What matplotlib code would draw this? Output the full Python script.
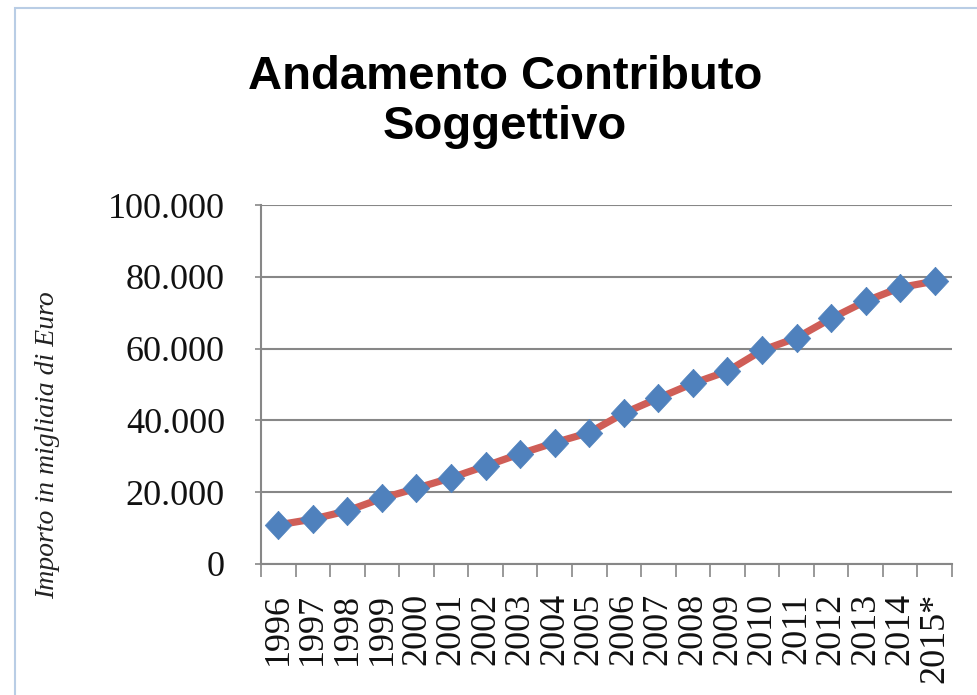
import matplotlib
matplotlib.use("Agg")
import matplotlib.pyplot as plt
from matplotlib.patches import Rectangle
from matplotlib.ticker import FuncFormatter, FixedLocator

# ── Data (migliaia di Euro) ──────────────────────────────────────────────────
YEARS = ["1996", "1997", "1998", "1999", "2000", "2001", "2002", "2003",
         "2004", "2005", "2006", "2007", "2008", "2009", "2010", "2011",
         "2012", "2013", "2014", "2015*"]
CONTRIBUTO = [10900, 12500, 14800, 18300, 21100, 24000, 27300, 30700,
              33800, 36600, 42000, 46200, 50300, 53700, 59500, 63000,
              68400, 73200, 77000, 78800]
Y_TICKS = [0, 20000, 40000, 60000, 80000, 100000]

LINE_COLOUR = "#CF5E57"
MARKER_COLOUR = "#4F81BD"
GRID_COLOUR = "#878787"

fig = plt.figure(figsize=(9.78, 6.95), dpi=100)

# light blue frame of the chart object (only top/left visible in the crop)
fig.patches.append(Rectangle((15 / 978, -0.1), 1.2, 0.1 + (1 - 8 / 695),
                             transform=fig.transFigure, fill=False,
                             edgecolor="#B9CDE5", linewidth=1.5))

ax = fig.add_axes([261 / 978, 1 - 564 / 695, 691 / 978, 359 / 695])

x = list(range(len(YEARS)))
diamond = [(0, 1), (0.93, 0), (0, -1), (-0.93, 0), (0, 1)]
ax.plot(x, CONTRIBUTO, color=LINE_COLOUR, linewidth=5.2, zorder=3,
        solid_capstyle="round")
ax.plot(x, CONTRIBUTO, linestyle="none", marker=diamond, markersize=20.5,
        markerfacecolor=MARKER_COLOUR, markeredgecolor=MARKER_COLOUR,
        markeredgewidth=0.5, zorder=4)

ax.set_xlim(-0.5, len(YEARS) - 0.5)
ax.set_ylim(0, 100000)

ax.set_yticks(Y_TICKS)
ax.yaxis.set_major_formatter(FuncFormatter(lambda v, _: f"{int(v):,}".replace(",", ".")))
ax.grid(axis="y", color=GRID_COLOUR, linewidth=1.5)
ax.set_axisbelow(True)

# category labels at centres, tick marks at boundaries
ax.set_xticks(x)
ax.set_xticklabels(YEARS, rotation=90, va="top", ha="center")
ax.xaxis.set_minor_locator(FixedLocator([i - 0.5 for i in range(len(YEARS) + 1)]))
ax.tick_params(axis="x", which="major", length=0, pad=21)
ax.tick_params(axis="x", which="minor", length=9, width=1.2, color=GRID_COLOUR)
ax.tick_params(axis="y", length=4, width=1.2, color=GRID_COLOUR, pad=22)

for side in ["top", "right"]:
    ax.spines[side].set_visible(False)
for side in ["left", "bottom"]:
    ax.spines[side].set_color(GRID_COLOUR)
    ax.spines[side].set_linewidth(1.5)

for lab in ax.get_xticklabels() + ax.get_yticklabels():
    lab.set_fontfamily("Liberation Serif")
    lab.set_fontsize(26)
    lab.set_color("#111111")

fig.text(48 / 978, 1 - 445 / 695, "Importo in migliaia di Euro",
         rotation=90, ha="center", va="center", fontsize=20,
         family="Liberation Serif", style="italic", color="#222222")

fig.text(505 / 978, 1 - 102 / 695, "Andamento Contributo\nSoggettivo",
         ha="center", va="center", fontsize=34, fontweight="bold",
         family="Liberation Sans", linespacing=1.15)

fig.savefig("out.png", dpi=100)
